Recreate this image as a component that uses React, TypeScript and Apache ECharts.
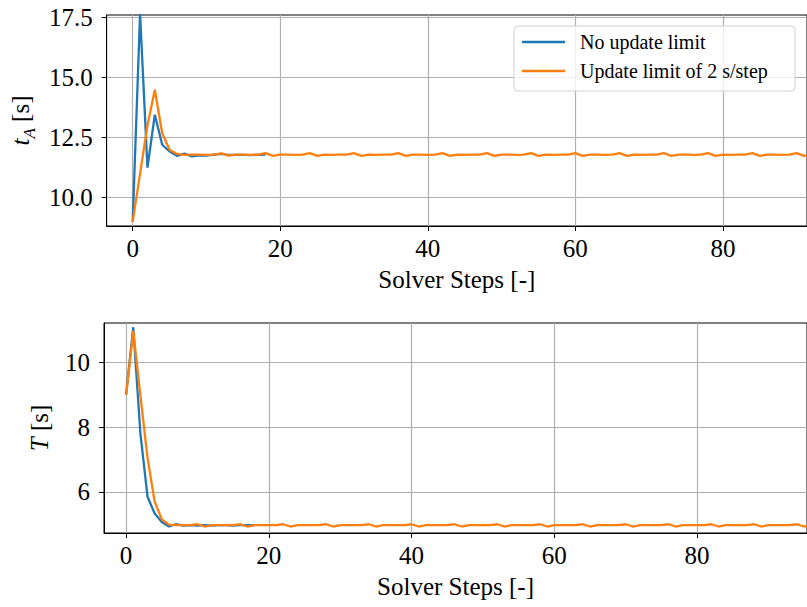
import React, { useEffect, useRef } from 'react';
import * as echarts from 'echarts';

const FONT = '"Liberation Serif", "DejaVu Serif", serif';
const BLUE = '#1f77b4';
const ORANGE = '#ff7f0e';

const seriesNames = ['No update limit', 'Update limit of 2 s/step'];

// t_A [s], no update limit (steps 0..18)
const tANoLimit = [9.0, 17.65, 11.25, 13.45, 12.2, 11.92, 11.74, 11.83, 11.72, 11.76, 11.75, 11.79, 11.82, 11.78, 11.78, 11.78, 11.77, 11.78, 11.79];

// t_A [s], update limit of 2 s/step (steps 0..99)
const tALimit = [
  9.0, 11.0, 13.0, 14.49, 12.68, 11.99, 11.82, 11.78, 11.79, 11.79,
  11.78, 11.79, 11.84, 11.75, 11.79, 11.79, 11.78, 11.79, 11.85, 11.74,
  11.79, 11.79, 11.78, 11.79, 11.85, 11.74, 11.79, 11.78, 11.79, 11.79,
  11.85, 11.74, 11.79, 11.78, 11.79, 11.79, 11.85, 11.74, 11.79, 11.79,
  11.78, 11.79, 11.85, 11.74, 11.79, 11.78, 11.79, 11.79, 11.85, 11.74,
  11.79, 11.79, 11.78, 11.79, 11.85, 11.74, 11.79, 11.78, 11.79, 11.79,
  11.85, 11.74, 11.79, 11.79, 11.78, 11.79, 11.85, 11.74, 11.79, 11.78,
  11.79, 11.79, 11.85, 11.74, 11.79, 11.79, 11.78, 11.79, 11.85, 11.74,
  11.79, 11.78, 11.79, 11.79, 11.85, 11.74, 11.79, 11.79, 11.78, 11.79,
  11.85, 11.74, 11.79, 11.78, 11.79, 11.79, 11.85, 11.74, 11.79, 11.79,
];

// T [s], no update limit (steps 0..18)
const TNoLimit = [9.0, 11.08, 7.8, 5.85, 5.33, 5.07, 4.93, 5.0, 4.96, 4.97, 4.96, 4.97, 4.96, 4.97, 4.97, 4.96, 4.97, 4.97, 4.97];

// T [s], update limit of 2 s/step (steps 0..99)
const TLimit = [
  9.0, 10.97, 8.97, 7.05, 5.7, 5.15, 4.99, 4.97, 4.97, 4.97,
  5.0, 4.93, 4.97, 4.97, 4.97, 4.97, 5.0, 4.93, 4.97, 4.97,
  4.97, 4.97, 5.0, 4.93, 4.97, 4.97, 4.97, 4.97, 5.0, 4.93,
  4.97, 4.97, 4.97, 4.97, 5.0, 4.93, 4.97, 4.97, 4.97, 4.97,
  5.0, 4.93, 4.97, 4.97, 4.97, 4.97, 5.0, 4.93, 4.97, 4.97,
  4.97, 4.97, 5.0, 4.93, 4.97, 4.97, 4.97, 4.97, 5.0, 4.93,
  4.97, 4.97, 4.97, 4.97, 5.0, 4.93, 4.97, 4.97, 4.97, 4.97,
  5.0, 4.93, 4.97, 4.97, 4.97, 4.97, 5.0, 4.93, 4.97, 4.97,
  4.97, 4.97, 5.0, 4.93, 4.97, 4.97, 4.97, 4.97, 5.0, 4.93,
  4.97, 4.97, 4.97, 4.97, 5.0, 4.93, 4.97, 4.97, 4.97, 4.97,
];

const xTicks = [0, 20, 40, 60, 80];
const tATicks = [10.0, 12.5, 15.0, 17.5];
const TTicks = [6, 8, 10];

const toPairs = (arr: number[]) => arr.map((v, i) => [i, v]);

const labelStyle = { fontFamily: FONT, fontSize: 25, color: '#000' };

function xAxisCfg(gridIndex: number, min: number, max: number) {
  return {
    type: 'value',
    gridIndex,
    min,
    max,
    axisLine: { show: true, onZero: false, lineStyle: { color: '#000', width: 1 } },
    axisTick: { show: true, customValues: xTicks, length: 5, lineStyle: { color: '#000', width: 1 } },
    axisLabel: { customValues: xTicks, margin: 10, ...labelStyle, formatter: (v: number) => String(v) },
    splitLine: { show: true, lineStyle: { color: '#b0b0b0', width: 1.2 } },
    name: 'Solver Steps [-]',
    nameLocation: 'middle',
    nameGap: 41,
    nameTextStyle: { ...labelStyle },
  };
}

function yAxisCfg(gridIndex: number, min: number, max: number, ticks: number[], fmt: (v: number) => string, name: string, nameGap: number) {
  return {
    type: 'value',
    gridIndex,
    min,
    max,
    axisLine: { show: true, onZero: false, lineStyle: { color: '#000', width: 1 } },
    axisTick: { show: true, customValues: ticks, length: 5, lineStyle: { color: '#000', width: 1 } },
    axisLabel: { customValues: ticks, margin: 14, ...labelStyle, formatter: fmt },
    splitLine: { show: true, lineStyle: { color: '#b0b0b0', width: 1.2 } },
    name,
    nameLocation: 'middle',
    nameRotate: 90,
    nameGap,
    nameTextStyle: {
      ...labelStyle,
      rich: {
        it: { fontFamily: FONT, fontSize: 25, fontStyle: 'italic', color: '#000', verticalAlign: 'bottom', padding: [0, 0, 5, 0] },
        sub: { fontFamily: FONT, fontSize: 17, fontStyle: 'italic', color: '#000', verticalAlign: 'bottom', padding: [0, 0, 0, 0] },
        n: { fontFamily: FONT, fontSize: 25, color: '#000', verticalAlign: 'bottom', padding: [0, 0, 5, 0] },
      },
    },
  };
}

export default function App() {
  const ref = useRef<HTMLDivElement>(null);
  useEffect(() => {
    if (!ref.current) return;
    const chart = echarts.init(ref.current, undefined, { renderer: 'svg' });
    const lineSeries = (name: string, data: number[], color: string, idx: number) => ({
      name,
      type: 'line',
      xAxisIndex: idx,
      yAxisIndex: idx,
      data: toPairs(data),
      showSymbol: false,
      symbol: 'none',
      clip: true,
      lineStyle: { color, width: 2.3 },
      itemStyle: { color },
    });
    chart.setOption({
      animation: false,
      backgroundColor: '#fff',
      grid: [
        { left: 104, top: 15, height: 211, right: -4, show: true, borderColor: '#000', borderWidth: 1, backgroundColor: 'transparent' },
        { left: 104, top: 323, height: 210, right: -4, show: true, borderColor: '#000', borderWidth: 1, backgroundColor: 'transparent' },
      ],
      xAxis: [xAxisCfg(0, -3.53, 91.4), xAxisCfg(1, -3.1, 95.4)],
      yAxis: [
        yAxisCfg(0, 8.82, 17.6, tATicks, (v: number) => v.toFixed(1), '{it|t}{sub|A}{n| [s]}', 63),
        yAxisCfg(1, 4.73, 11.21, TTicks, (v: number) => String(v), '{it|T}{n| [s]}', 47),
      ],
      legend: {
        show: true,
        orient: 'vertical',
        left: 514,
        top: 26,
        padding: [6, 10, 10, 8],
        itemGap: 9,
        itemWidth: 43,
        itemHeight: 2.3,
        icon: 'rect',
        borderColor: '#d0d0d0',
        borderWidth: 1,
        borderRadius: 4,
        backgroundColor: 'rgba(255,255,255,0.8)',
        textStyle: { fontFamily: FONT, fontSize: 20, color: '#000', lineHeight: 20, width: 205, padding: [0, 0, 0, 10] },
        data: seriesNames,
      },
      series: [
        lineSeries(seriesNames[0], tANoLimit, BLUE, 0),
        lineSeries(seriesNames[1], tALimit, ORANGE, 0),
        lineSeries(seriesNames[0], TNoLimit, BLUE, 1),
        lineSeries(seriesNames[1], TLimit, ORANGE, 1),
      ],
    });
    return () => chart.dispose();
  }, []);
  return <div ref={ref} style={{ position: 'fixed', left: 0, top: 0, width: 807, height: 607 }} />;
}
